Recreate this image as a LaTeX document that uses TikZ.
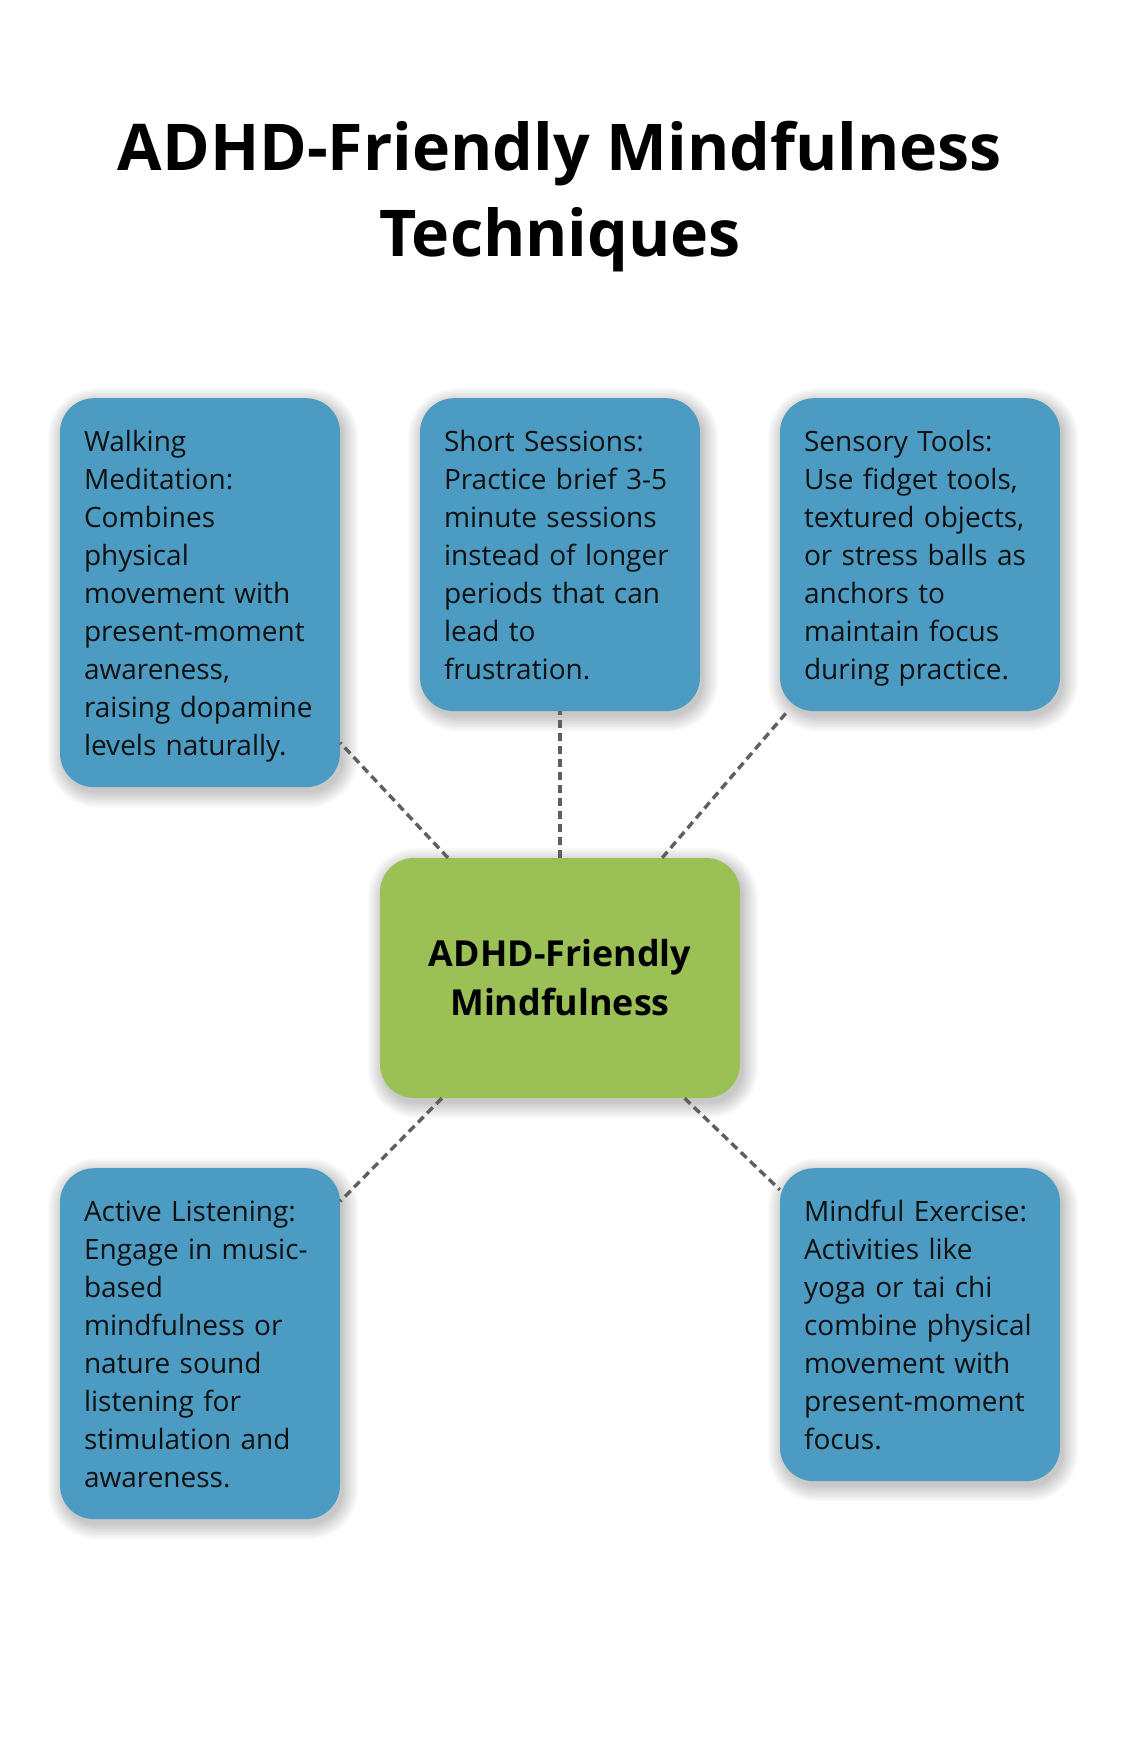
\documentclass[tikz,border=0pt]{standalone}
\usepackage{fontspec}
\setmainfont{Open Sans}
\definecolor{boxblue}{RGB}{76,155,194}
\definecolor{boxgreen}{RGB}{155,192,86}
\definecolor{linegray}{RGB}{95,95,95}
\definecolor{inktext}{RGB}{17,17,17}
\pgfdeclarelayer{paper}
\pgfdeclarelayer{shade}
\pgfsetlayers{paper,shade,main}
\exhyphenpenalty=10000
\hyphenpenalty=10000
\newcommand\firstln{\rule{0pt}{53pt}}
\newcommand\lastln{\rule[-32pt]{0pt}{32pt}}
\newcommand\shadebox[1]{%
  \begin{pgfonlayer}{shade}
    \foreach \r in {0,1.5,...,15} {
      \pgfmathsetmacro\rc{34+\r}
      \fill[black, opacity=0.021, rounded corners=\rc pt]
        ([shift={(3-\r,5+\r)}]#1.south west) rectangle ([shift={(3+\r,5-\r)}]#1.north east);
    }
  \end{pgfonlayer}}
\tikzset{
  tech/.style={rectangle, rounded corners=34pt, fill=boxblue,
    inner xsep=24pt, inner ysep=0pt, text width=232pt, align=left, anchor=north,
    font=\fontsize{28pt}{38pt}\selectfont, text=inktext},
  hub/.style={rectangle, rounded corners=34pt, fill=boxgreen,
    minimum width=360pt, minimum height=240pt, inner sep=0pt, align=center,
    font=\fontsize{35.8pt}{49pt}\selectfont\bfseries, text=black},
  titletext/.style={anchor=base, inner sep=0pt, font=\fontsize{64.5pt}{86pt}\selectfont\bfseries, text=black},
  link/.style={draw=linegray, line width=3.4pt, dash pattern=on 8pt off 5pt},
}
\begin{document}
\begin{tikzpicture}[x=1pt, y=-1pt]
  \begin{pgfonlayer}{paper}
    \fill[white] (0,0) rectangle (1120,1760);
  \end{pgfonlayer}
  \useasboundingbox (0,0) rectangle (1120,1760);

  \node[titletext] (t1) at (560,171) {ADHD-Friendly Mindfulness};
  \node[titletext] (t2) at (560,257) {Techniques};

  \node[hub] (hub) at (560,978) {ADHD-Friendly\\Mindfulness};

  \node[tech] (walk) at (200,398) {\firstln Walking\\Meditation:\\Combines\\physical\\movement with\\present-moment\\awareness,\\raising dopamine\\levels naturally.\lastln};
  \node[tech] (short) at (560,398) {\firstln Short Sessions:\\Practice brief 3-5\\minute sessions\\instead of longer\\periods that can\\lead to\\frustration.\lastln};
  \node[tech] (sens) at (920,398) {\firstln Sensory Tools:\\Use fidget tools,\\textured objects,\\or stress balls as\\anchors to\\maintain focus\\during practice.\lastln};
  \node[tech] (listen) at (200,1168) {\firstln Active Listening:\\Engage in music-\\based\\mindfulness or\\nature sound\\listening for\\stimulation and\\awareness.\lastln};
  \node[tech] (exer) at (920,1168) {\firstln Mindful Exercise:\\Activities like\\yoga or tai chi\\combine physical\\movement with\\present-moment\\focus.\lastln};

  \shadebox{hub}
  \shadebox{walk}
  \shadebox{short}
  \shadebox{sens}
  \shadebox{listen}
  \shadebox{exer}

  \draw[link] (hub) -- (walk);
  \draw[link] (hub) -- (short);
  \draw[link] (hub) -- (sens);
  \draw[link] (hub) -- (listen);
  \draw[link] (hub) -- (exer);
\end{tikzpicture}
\end{document}
